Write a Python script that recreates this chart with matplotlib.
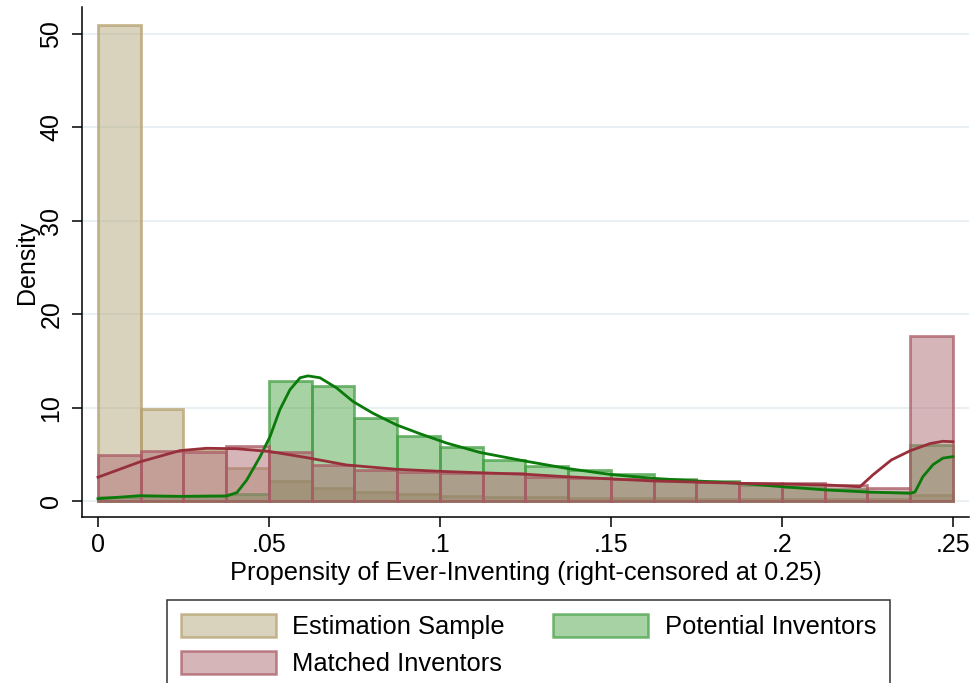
import numpy as np
import matplotlib
matplotlib.use('Agg')
import matplotlib.pyplot as plt
from matplotlib.patches import Patch

plt.rcParams['font.family'] = ['Liberation Sans', 'DejaVu Sans']

# histogram heights, 20 bins of width 0.0125 on [0, 0.25]
estimation = [51.0, 9.85, 5.5, 3.5, 2.1, 1.4, 0.93, 0.72, 0.57, 0.46,
              0.4, 0.35, 0.3, 0.28, 0.25, 0.22, 0.2, 0.2, 0.2, 0.6]
potential = [0.4, 0.5, 0.5, 0.8, 12.9, 12.3, 8.85, 7.0, 5.75, 4.4,
             3.8, 3.3, 2.85, 2.4, 2.1, 1.75, 1.45, 1.25, 1.0, 5.95]
matched = [4.9, 5.4, 5.2, 5.9, 5.2, 3.9, 3.3, 3.15, 3.0, 2.95,
           2.6, 2.5, 2.35, 2.2, 2.07, 1.96, 1.9, 1.7, 1.36, 17.7]

# kernel density lines
pot_kx = [0.0, 0.0123, 0.024, 0.0377, 0.0406, 0.0435, 0.0474, 0.0503, 0.0532,
          0.0561, 0.0591, 0.0614, 0.0649, 0.0698, 0.0746, 0.0804, 0.0873,
          0.0942, 0.102, 0.1117, 0.1253, 0.137, 0.1497, 0.1623, 0.175,
          0.1877, 0.2003, 0.2131, 0.2248, 0.2374, 0.2389, 0.2412, 0.2442,
          0.2471, 0.25]
pot_ky = [0.25, 0.57, 0.5, 0.55, 0.9, 2.25, 4.75, 6.9, 9.8, 11.9, 13.2, 13.4,
          13.2, 12.1, 10.65, 9.4, 8.15, 7.2, 6.2, 5.2, 4.25, 3.5, 2.85, 2.43,
          2.15, 1.9, 1.53, 1.18, 0.97, 0.83, 0.96, 2.6, 3.9, 4.6, 4.75]
mat_kx = [0.0, 0.0123, 0.024, 0.0318, 0.0406, 0.0503, 0.061, 0.0727, 0.0873,
          0.102, 0.1253, 0.137, 0.1623, 0.1877, 0.2131, 0.2228, 0.2266,
          0.232, 0.2376, 0.2433, 0.2471, 0.25]
mat_ky = [2.55, 4.2, 5.4, 5.65, 5.6, 5.3, 4.65, 3.86, 3.4, 3.15, 2.86, 2.6,
          2.15, 1.9, 1.72, 1.53, 2.8, 4.4, 5.4, 6.15, 6.4, 6.35]

labels = ['Estimation Sample', 'Potential Inventors', 'Matched Inventors']

edges = np.linspace(0, 0.25, 21)
width = edges[1] - edges[0]

tan_f, tan_e = (181/255, 169/255, 125/255, 0.5), (181/255, 160/255, 110/255, 0.75)
grn_f, grn_e = (81/255, 169/255, 75/255, 0.5), (70/255, 160/255, 70/255, 0.75)
red_f, red_e = (175/255, 109/255, 117/255, 0.5), (170/255, 90/255, 100/255, 0.75)

fig = plt.figure(figsize=(9.74, 6.83), dpi=100)
ax = fig.add_axes([82/974, 1 - 517/683, 887/974, 510/683])

for h, fc, ec in [(estimation, tan_f, tan_e), (potential, grn_f, grn_e),
                  (matched, red_f, red_e)]:
    ax.bar(edges[:-1], h, width=width, align='edge', facecolor=fc,
           edgecolor=ec, linewidth=2.0, zorder=2)

ax.plot(pot_kx, pot_ky, color='#0a7a0a', lw=2.0, zorder=3)
ax.plot(mat_kx, mat_ky, color='#98303c', lw=2.0, zorder=3)

ax.set_xlim(-0.00468, 0.2547)
ax.set_ylim(-1.71, 52.9)
ax.set_yticks([0, 10, 20, 30, 40, 50])
ax.set_xticks([0, 0.05, 0.1, 0.15, 0.2, 0.25])
ax.set_xticklabels(['0', '.05', '.1', '.15', '.2', '.25'])
ax.grid(axis='y', color='#e6eff2', lw=1.3, zorder=0)
ax.set_axisbelow(True)
for s in ['top', 'right']:
    ax.spines[s].set_visible(False)
for s in ['left', 'bottom']:
    ax.spines[s].set_linewidth(1.1)
ax.tick_params(axis='both', length=7.5, width=1.1, labelsize=18)
ax.tick_params(axis='x', pad=4)
ax.tick_params(axis='y', pad=6)
for t in ax.get_yticklabels():
    t.set_rotation(90)
    t.set_va('center')
ax.set_ylabel('Density', fontsize=18, labelpad=0)
ax.set_xlabel('Propensity of Ever-Inventing (right-censored at 0.25)',
              fontsize=18.3, labelpad=3)

handles = [Patch(facecolor=tan_f, edgecolor=tan_e, lw=1.8),
           Patch(facecolor=grn_f, edgecolor=grn_e, lw=1.8),
           Patch(facecolor=red_f, edgecolor=red_e, lw=1.8)]
order = [0, 2, 1]
leg = fig.legend([handles[i] for i in order], [labels[i] for i in order],
                 ncol=2, loc='upper left', bbox_to_anchor=(167/974, 1 - 600/683),
                 fontsize=18.4, frameon=True, fancybox=False, edgecolor='black',
                 handlelength=3.7, handleheight=1.0, handletextpad=0.65,
                 columnspacing=1.9, labelspacing=0.45, borderpad=0.55,
                 borderaxespad=0)
leg.get_frame().set_linewidth(1.1)

fig.savefig('out.png', dpi=100)
